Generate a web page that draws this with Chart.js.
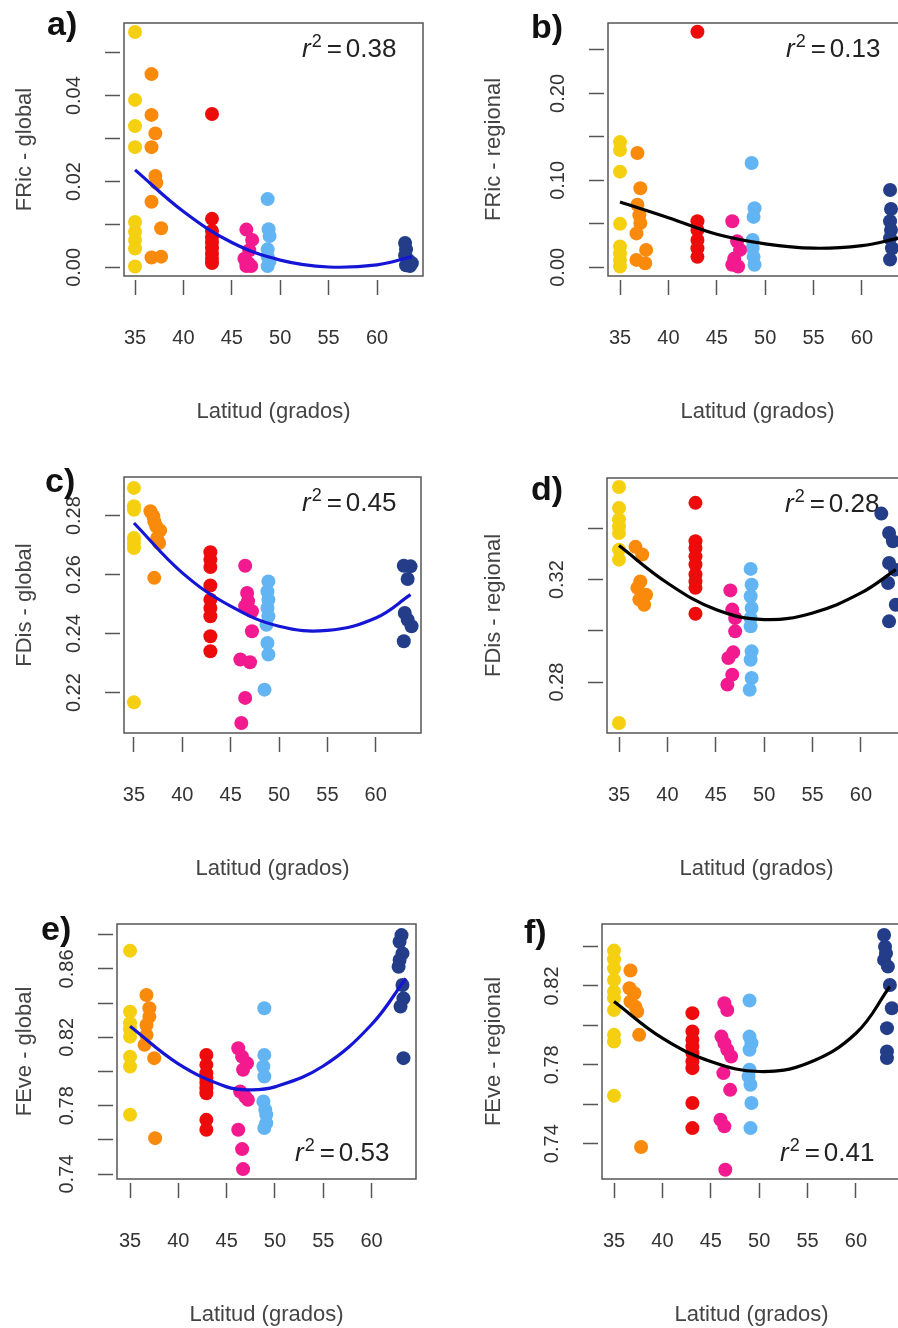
<!DOCTYPE html>
<html>
<head>
<meta charset="utf-8">
<title>Latitud - diversidad funcional</title>
<script src="https://cdn.jsdelivr.net/npm/chart.js@4.4.1/dist/chart.umd.min.js"></script>
<style>
    html, body { margin: 0; padding: 0; background: #fff; }
    #wrap { position: relative; width: 898px; height: 1328px; overflow: hidden; background: #fff; }
    #wrap canvas { position: absolute; }
</style>
</head>
<body>
<div id="wrap">
    <canvas id="pa"></canvas>
    <canvas id="pb"></canvas>
    <canvas id="pc"></canvas>
    <canvas id="pd"></canvas>
    <canvas id="pe"></canvas>
    <canvas id="pf"></canvas>
</div>
<script>
const groupColors = ['#F5D010', '#FA8A0C', '#EE0B0B', '#F21A8E', '#62B4F3', '#233D89'];
const latTicks = [35, 40, 45, 50, 55, 60];

// a) FRic - global
const fricGlobalLat = [
    [35, 35, 35, 35, 35, 35, 35, 35, 35],
    [36.7, 36.7, 37.1, 36.7, 37.1, 37.2, 36.7, 37.7, 36.7, 37.7],
    [42.95, 42.95, 42.95, 42.95, 42.95, 42.95, 42.95, 42.95, 42.95],
    [46.5, 47.1, 46.8, 46.3, 46.5, 47.0, 46.7],
    [48.7, 48.8, 48.9, 48.7, 48.7, 48.9, 48.7],
    [62.9, 63.0, 62.9, 63.2, 63.6, 63.0, 63.4]
];
const fricGlobalVal = [
    [0.0548, 0.0390, 0.0329, 0.0280, 0.0106, 0.0083, 0.0064, 0.0044, 0.0002],
    [0.0450, 0.0355, 0.0312, 0.0280, 0.0213, 0.0197, 0.0153, 0.0091, 0.0023, 0.0025],
    [0.0357, 0.0113, 0.0085, 0.0070, 0.0058, 0.0045, 0.0032, 0.0020, 0.0010],
    [0.0088, 0.0064, 0.0040, 0.0020, 0.0003, 0.0003, 0.0010],
    [0.0159, 0.0089, 0.0073, 0.0042, 0.0025, 0.0015, 0.0003],
    [0.0057, 0.0042, 0.0028, 0.0018, 0.0010, 0.0005, 0.0003]
];
const fricGlobalCurveLat = [35, 40, 45, 50, 55, 60, 63.6];
const fricGlobalCurveVal = [0.0227, 0.0130, 0.0058, 0.0017, 0.0001, 0.0006, 0.0025];
const fricGlobalTicks = [0, 0.01, 0.02, 0.03, 0.04, 0.05];
const fricGlobalLabels = ['0.00', '', '0.02', '', '0.04', ''];

// b) FRic - regional
const fricRegLat = [
    [35, 35, 35, 35, 35, 35, 35, 35],
    [36.8, 37.1, 36.8, 37.0, 37.1, 36.7, 37.7, 36.7, 37.6],
    [43.0, 43.0, 43.0, 43.0, 43.0, 43.0],
    [46.6, 47.1, 47.4, 46.8, 46.6, 47.2],
    [48.6, 48.9, 48.8, 48.7, 48.7, 48.8, 48.9],
    [62.9, 63.0, 62.9, 63.0, 62.9, 63.1, 62.9]
];
const fricRegVal = [
    [0.144, 0.135, 0.110, 0.050, 0.024, 0.016, 0.0085, 0.001],
    [0.1315, 0.091, 0.072, 0.060, 0.051, 0.039, 0.020, 0.0085, 0.0046],
    [0.271, 0.053, 0.043, 0.0315, 0.022, 0.012],
    [0.053, 0.030, 0.020, 0.010, 0.003, 0.001],
    [0.120, 0.068, 0.058, 0.0315, 0.022, 0.012, 0.003],
    [0.089, 0.067, 0.053, 0.043, 0.0335, 0.022, 0.009]
];
const fricRegCurveLat = [35, 40, 45, 50, 55, 60, 63.8];
const fricRegCurveVal = [0.075, 0.057, 0.038, 0.027, 0.022, 0.025, 0.0335];
const fricRegTicks = [0, 0.05, 0.10, 0.15, 0.20, 0.25];
const fricRegLabels = ['0.00', '', '0.10', '', '0.20', ''];

// c) FDis - global
const fdisGlobalLat = [
    [35, 35, 35, 35, 35, 35, 35],
    [36.7, 37.0, 37.1, 37.3, 37.7, 37.4, 37.6, 37.1],
    [42.9, 42.9, 42.9, 42.9, 42.9, 42.9, 42.9, 42.9, 42.9],
    [46.5, 46.7, 46.8, 46.5, 47.2, 47.2, 46.0, 47.0, 46.5, 46.1],
    [48.9, 48.8, 48.9, 48.8, 48.9, 48.7, 48.8, 48.9, 48.5],
    [62.9, 63.6, 63.3, 63.0, 63.3, 63.7, 62.9]
];
const fdisGlobalVal = [
    [0.2894, 0.2832, 0.2820, 0.2724, 0.2707, 0.2690, 0.2167],
    [0.2815, 0.2798, 0.2780, 0.2764, 0.2750, 0.2724, 0.2707, 0.2589],
    [0.2676, 0.2651, 0.2626, 0.2563, 0.2515, 0.2487, 0.2459, 0.2391, 0.2340],
    [0.2630, 0.2538, 0.2510, 0.2493, 0.2476, 0.2408, 0.2312, 0.2303, 0.2182, 0.2097],
    [0.2577, 0.2543, 0.2515, 0.2487, 0.2459, 0.2430, 0.2368, 0.2329, 0.2210],
    [0.2630, 0.2628, 0.2585, 0.2470, 0.2447, 0.2425, 0.2374]
];
const fdisGlobalCurveLat = [35, 40, 45, 50, 55, 60, 63.6];
const fdisGlobalCurveVal = [0.2775, 0.2606, 0.2493, 0.2425, 0.2411, 0.2453, 0.2532];
const fdisGlobalTicks = [0.22, 0.24, 0.26, 0.28];
const fdisGlobalLabels = ['0.22', '0.24', '0.26', '0.28'];

// d) FDis - regional
const fdisRegLat = [
    [35, 35, 35, 35, 35, 35, 35, 35],
    [36.7, 37.4, 37.2, 36.9, 37.8, 37.1, 37.6],
    [42.9, 42.9, 42.9, 42.9, 42.9, 42.9, 42.9, 42.9, 42.9],
    [46.5, 46.7, 47.0, 47.0, 46.8, 46.3, 46.7, 46.2],
    [48.6, 48.7, 48.6, 48.7, 48.6, 48.6, 48.7, 48.6, 48.7, 48.5],
    [62.1, 62.9, 63.3, 62.9, 63.5, 62.8, 63.6, 62.9]
];
const fdisRegVal = [
    [0.3562, 0.3480, 0.3435, 0.3408, 0.3382, 0.3317, 0.3278, 0.2640],
    [0.3328, 0.3298, 0.3193, 0.3168, 0.3141, 0.3122, 0.3102],
    [0.3500, 0.3350, 0.3324, 0.3291, 0.3259, 0.3220, 0.3193, 0.3168, 0.3067],
    [0.3158, 0.3083, 0.3050, 0.2998, 0.2916, 0.2894, 0.2829, 0.2790],
    [0.3242, 0.3180, 0.3135, 0.3089, 0.3050, 0.3018, 0.2920, 0.2887, 0.2816, 0.2770],
    [0.3458, 0.3382, 0.3350, 0.3265, 0.3239, 0.3187, 0.3102, 0.3037]
];
const fdisRegCurveLat = [35, 40, 45, 50, 55, 60, 63.6];
const fdisRegCurveVal = [0.3333, 0.3187, 0.3083, 0.3044, 0.3070, 0.3148, 0.3239];
const fdisRegTicks = [0.28, 0.30, 0.32, 0.34];
const fdisRegLabels = ['0.28', '', '0.32', ''];

// e) FEve - global
const feveGlobalLat = [
    [35, 35, 35, 35, 35, 35, 35, 35],
    [36.7, 37.0, 37.0, 36.7, 36.7, 36.5, 37.5, 37.6],
    [42.9, 42.9, 42.9, 42.9, 42.9, 42.9, 42.9, 42.9, 42.9],
    [46.2, 46.6, 47.1, 46.7, 46.4, 46.9, 47.2, 46.2, 46.6, 46.7],
    [48.9, 48.9, 48.8, 48.9, 48.8, 49.0, 49.1, 49.1, 48.9],
    [63.1, 62.9, 63.2, 62.9, 62.8, 63.2, 63.3, 63.0, 63.3]
];
const feveGlobalVal = [
    [0.8707, 0.8350, 0.8282, 0.8247, 0.8204, 0.8087, 0.8029, 0.7747],
    [0.8448, 0.8370, 0.8321, 0.8272, 0.8214, 0.8156, 0.8078, 0.7610],
    [0.8097, 0.8039, 0.7990, 0.7961, 0.7932, 0.7902, 0.7873, 0.7717, 0.7659],
    [0.8136, 0.8087, 0.8048, 0.8010, 0.7883, 0.7854, 0.7834, 0.7659, 0.7546, 0.7429],
    [0.8370, 0.8097, 0.8029, 0.7971, 0.7825, 0.7776, 0.7747, 0.7698, 0.7669],
    [0.8798, 0.8759, 0.8691, 0.8652, 0.8613, 0.8506, 0.8428, 0.8380, 0.8078]
];
const feveGlobalCurveLat = [35, 40, 45, 47.5, 50, 55, 60, 63.55];
const feveGlobalCurveVal = [0.8265, 0.8045, 0.7910, 0.7893, 0.7910, 0.8032, 0.8275, 0.8545];
const feveGlobalTicks = [0.74, 0.76, 0.78, 0.80, 0.82, 0.84, 0.86, 0.88];
const feveGlobalLabels = ['0.74', '', '0.78', '', '0.82', '', '0.86', ''];

// f) FEve - regional
const feveRegLat = [
    [35, 35, 35, 35, 35, 35, 35, 35, 35, 35],
    [36.7, 36.6, 37.1, 36.7, 37.2, 37.4, 37.6, 37.8],
    [43.1, 43.1, 43.1, 43.1, 43.1, 43.1, 43.1, 43.1, 43.1],
    [46.4, 46.7, 46.1, 46.4, 46.7, 47.1, 46.3, 47.0, 46.0, 46.4, 46.5],
    [49.0, 49.0, 49.2, 49.0, 49.0, 48.9, 49.1, 49.2, 49.1],
    [62.9, 63.0, 63.1, 62.9, 63.3, 63.5, 63.7, 63.2, 63.2, 63.2]
];
const feveRegVal = [
    [0.8379, 0.8335, 0.8289, 0.8230, 0.8171, 0.8138, 0.8078, 0.7952, 0.7918, 0.7643],
    [0.8278, 0.8188, 0.8163, 0.8121, 0.8095, 0.8070, 0.7952, 0.7383],
    [0.8062, 0.7969, 0.7927, 0.7893, 0.7859, 0.7817, 0.7783, 0.7606, 0.7479],
    [0.8112, 0.8078, 0.7943, 0.7910, 0.7876, 0.7842, 0.7758, 0.7673, 0.7522, 0.7488, 0.7268],
    [0.8126, 0.7943, 0.7910, 0.7876, 0.7775, 0.7741, 0.7699, 0.7606, 0.7479],
    [0.8458, 0.8399, 0.8365, 0.8332, 0.8298, 0.8205, 0.8087, 0.7986, 0.7868, 0.7834]
];
const feveRegCurveLat = [35, 40, 45, 50, 55, 60, 63.5];
const feveRegCurveVal = [0.8121, 0.7935, 0.7817, 0.7766, 0.7808, 0.7960, 0.8197];
const feveRegTicks = [0.74, 0.76, 0.78, 0.80, 0.82, 0.84];
const feveRegLabels = ['0.74', '', '0.78', '', '0.82', ''];

Chart.defaults.font.family = '"Liberation Sans", Arial, Helvetica, sans-serif';
const FONT = '"Liberation Sans", Arial, Helvetica, sans-serif';

// box, rotated y labels (like R las=0), panel letter and r^2 text
const panelDecor = {
    id: 'panelDecor',
    beforeDatasetsDraw(chart, args, o) {
        const ctx = chart.ctx;
        const a = chart.chartArea;
        const x0 = a.left + 178;
        const base = o.r2Top ? a.top + 34 : a.bottom - 18;
        ctx.save();
        ctx.fillStyle = '#222';
        ctx.textAlign = 'left';
        ctx.textBaseline = 'alphabetic';
        ctx.font = 'italic 26px ' + FONT;
        ctx.fillText('r', x0, base);
        let x = x0 + ctx.measureText('r').width + 1;
        ctx.font = '18px ' + FONT;
        ctx.fillText('2', x, base - 10);
        x += ctx.measureText('2').width + 5;
        ctx.font = '26px ' + FONT;
        ctx.fillText('=', x, base);
        x += ctx.measureText('=').width + 4;
        ctx.fillText(o.r2, x, base);
        ctx.restore();
    },
    afterDraw(chart, args, o) {
        const ctx = chart.ctx;
        const a = chart.chartArea;
        const ys = chart.scales.y;
        ctx.save();
        ctx.strokeStyle = '#555';
        ctx.lineWidth = 1.5;
        ctx.strokeRect(a.left, a.top, a.right - a.left, a.bottom - a.top);

        ctx.fillStyle = '#333';
        ctx.font = '20px ' + FONT;
        ctx.textAlign = 'center';
        ctx.textBaseline = 'middle';
        ys.ticks.forEach((t, i) => {
            const lab = o.yLabels[i];
            if (!lab) return;
            ctx.save();
            ctx.translate(a.left - 50, ys.getPixelForValue(t.value));
            ctx.rotate(-Math.PI / 2);
            ctx.fillText(lab, 0, 0);
            ctx.restore();
        });

        ctx.fillStyle = '#111';
        ctx.font = 'bold 34px ' + FONT;
        ctx.textAlign = 'left';
        ctx.textBaseline = 'alphabetic';
        ctx.fillText(o.letter, o.letterX, o.letterY);
        ctx.restore();
    }
};

const panels = [
    { id: 'pa', cx: 0, cy: 0, cw: 449, ch: 452, box: [124, 23, 423, 276], xr: [33.86, 64.75], yr: [-0.0020, 0.0569],
      lat: fricGlobalLat, val: fricGlobalVal, cLat: fricGlobalCurveLat, cVal: fricGlobalCurveVal,
      yTicks: fricGlobalTicks, yLabels: fricGlobalLabels, yTitle: 'FRic - global', yTitleX: 25,
      letter: 'a)', letterX: 47, letterY: 35, r2: '0.38', r2Top: true, curve: '#1515D5' },
    { id: 'pb', cx: 449, cy: 0, cw: 485, ch: 452, box: [608, 23, 907, 276], xr: [33.76, 64.65], yr: [-0.010, 0.281],
      lat: fricRegLat, val: fricRegVal, cLat: fricRegCurveLat, cVal: fricRegCurveVal,
      yTicks: fricRegTicks, yLabels: fricRegLabels, yTitle: 'FRic - regional', yTitleX: 494,
      letter: 'b)', letterX: 531, letterY: 38, r2: '0.13', r2Top: true, curve: '#000000' },
    { id: 'pc', cx: 0, cy: 454, cw: 449, ch: 452, box: [124, 477, 421, 733], xr: [33.97, 64.68], yr: [0.2063, 0.2931],
      lat: fdisGlobalLat, val: fdisGlobalVal, cLat: fdisGlobalCurveLat, cVal: fdisGlobalCurveVal,
      yTicks: fdisGlobalTicks, yLabels: fdisGlobalLabels, yTitle: 'FDis - global', yTitleX: 25,
      letter: 'c)', letterX: 45, letterY: 492, r2: '0.45', r2Top: true, curve: '#1515D5' },
    { id: 'pd', cx: 449, cy: 454, cw: 485, ch: 452, box: [607, 478, 906, 733], xr: [33.76, 64.65], yr: [0.2601, 0.3597],
      lat: fdisRegLat, val: fdisRegVal, cLat: fdisRegCurveLat, cVal: fdisRegCurveVal,
      yTicks: fdisRegTicks, yLabels: fdisRegLabels, yTitle: 'FDis - regional', yTitleX: 494,
      letter: 'd)', letterX: 531, letterY: 500, r2: '0.28', r2Top: true, curve: '#000000' },
    { id: 'pe', cx: 0, cy: 901, cw: 449, ch: 440, box: [117, 924, 416, 1179], xr: [33.65, 64.6], yr: [0.7371, 0.8863],
      lat: feveGlobalLat, val: feveGlobalVal, cLat: feveGlobalCurveLat, cVal: feveGlobalCurveVal,
      yTicks: feveGlobalTicks, yLabels: feveGlobalLabels, yTitle: 'FEve - global', yTitleX: 25,
      letter: 'e)', letterX: 41, letterY: 940, r2: '0.53', r2Top: false, curve: '#1515D5' },
    { id: 'pf', cx: 449, cy: 901, cw: 485, ch: 440, box: [602, 924, 901, 1179], xr: [33.76, 64.65], yr: [0.7221, 0.8514],
      lat: feveRegLat, val: feveRegVal, cLat: feveRegCurveLat, cVal: feveRegCurveVal,
      yTicks: feveRegTicks, yLabels: feveRegLabels, yTitle: 'FEve - regional', yTitleX: 494,
      letter: 'f)', letterX: 524, letterY: 943, r2: '0.41', r2Top: false, curve: '#000000' }
];

function drawPanel(p) {
    const canvas = document.getElementById(p.id);
    canvas.width = p.cw;
    canvas.height = p.ch;
    canvas.style.left = p.cx + 'px';
    canvas.style.top = p.cy + 'px';
    canvas.style.width = p.cw + 'px';
    canvas.style.height = p.ch + 'px';

    const boxL = p.box[0] - p.cx;
    const boxT = p.box[1] - p.cy;
    const boxR = p.box[2] - p.cx;
    const boxB = p.box[3] - p.cy;
    const titleSize = 22;
    const titleLH = titleSize * 1.2;
    const xTitleY = p.box[3] + 136 - p.cy;

    const datasets = [{
        data: p.cLat.map((x, i) => ({ x: x, y: p.cVal[i] })),
        showLine: true,
        borderColor: p.curve,
        borderWidth: 3.2,
        pointRadius: 0,
        tension: 0.4,
        fill: false
    }];
    p.lat.forEach((arr, g) => {
        datasets.push({
            data: arr.map((x, i) => ({ x: x, y: p.val[g][i] })),
            backgroundColor: groupColors[g],
            borderColor: groupColors[g],
            borderWidth: 0,
            pointRadius: 7,
            pointHoverRadius: 7
        });
    });

    new Chart(canvas, {
        type: 'scatter',
        data: { datasets: datasets },
        plugins: [panelDecor],
        options: {
            responsive: false,
            animation: false,
            devicePixelRatio: 1,
            layout: {
                autoPadding: false,
                padding: { left: 0, top: boxT, right: p.cw - boxR, bottom: 0 }
            },
            plugins: {
                legend: { display: false },
                tooltip: { enabled: false },
                panelDecor: {
                    yLabels: p.yLabels,
                    letter: p.letter,
                    letterX: p.letterX - p.cx,
                    letterY: p.letterY - p.cy,
                    r2: p.r2,
                    r2Top: p.r2Top
                }
            },
            scales: {
                x: {
                    type: 'linear',
                    position: 'bottom',
                    min: p.xr[0],
                    max: p.xr[1],
                    bounds: 'data',
                    afterBuildTicks: s => { s.ticks = latTicks.map(v => ({ value: v })); },
                    afterFit: s => { s.height = p.ch - boxB; },
                    grid: {
                        drawOnChartArea: false,
                        drawTicks: true,
                        tickLength: 19,
                        tickColor: '#555',
                        tickWidth: 1.5,
                        tickBorderDash: [15, 4],
                        tickBorderDashOffset: 15
                    },
                    border: { display: false },
                    ticks: {
                        color: '#333',
                        font: { size: 20 },
                        padding: 31,
                        maxRotation: 0,
                        autoSkip: false,
                        callback: v => String(v)
                    },
                    title: {
                        display: true,
                        text: 'Latitud (grados)',
                        color: '#444',
                        font: { size: titleSize },
                        padding: { top: 0, bottom: p.ch - xTitleY - titleLH / 2 }
                    }
                },
                y: {
                    type: 'linear',
                    position: 'left',
                    min: p.yr[0],
                    max: p.yr[1],
                    bounds: 'data',
                    afterBuildTicks: s => { s.ticks = p.yTicks.map(v => ({ value: v })); },
                    afterFit: s => { s.width = boxL; },
                    grid: {
                        drawOnChartArea: false,
                        drawTicks: true,
                        tickLength: 19,
                        tickColor: '#555',
                        tickWidth: 1.5,
                        tickBorderDash: [15, 4],
                        tickBorderDashOffset: 0
                    },
                    border: { display: false },
                    ticks: { display: false },
                    title: {
                        display: true,
                        text: p.yTitle,
                        color: '#444',
                        font: { size: titleSize },
                        padding: { top: p.yTitleX - p.cx - titleLH / 2, bottom: 0 }
                    }
                }
            }
        }
    });
}

panels.forEach(drawPanel);
</script>
</body>
</html>
